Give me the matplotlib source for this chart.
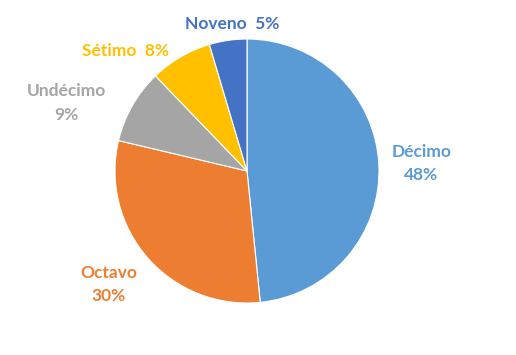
import matplotlib.pyplot as plt

# Data (share of students per grade)
grades = ['Décimo', 'Octavo', 'Undécimo', 'Sétimo', 'Noveno']
shares = [48.4, 30.3, 9.1, 7.6, 4.6]
colors = ['#5B9BD5', '#ED7D31', '#A5A5A5', '#FFC000', '#4472C4']

# label layout (data units, pie radius = 1) and line break style
label_pos = [(1.32, 0.06), (-1.05, -0.86), (-1.37, 0.515), (-0.917, 0.912), (-0.11, 1.11)]
label_sep = ['\n', '\n', '\n', '  ', '  ']

fig = plt.figure(figsize=(5.16, 3.55), dpi=100)
ax = fig.add_axes([115 / 516, 52 / 355, 264 / 516, 264 / 355])

wedges, _ = ax.pie(shares, colors=colors, startangle=90, counterclock=False,
                   wedgeprops=dict(linewidth=0.8, edgecolor='white'))

total = sum(shares)
for name, val, col, (x, y), sep in zip(grades, shares, colors, label_pos, label_sep):
    ax.text(x, y, f'{name}{sep}{round(val / total * 100):.0f}%', color=col,
            ha='center', va='center', fontsize=12.5, fontweight='bold',
            family='Lato', linespacing=1.55)

ax.set_xlim(-1, 1)
ax.set_ylim(-1, 1)
ax.axis('off')

fig.savefig('out.png', dpi=100)
